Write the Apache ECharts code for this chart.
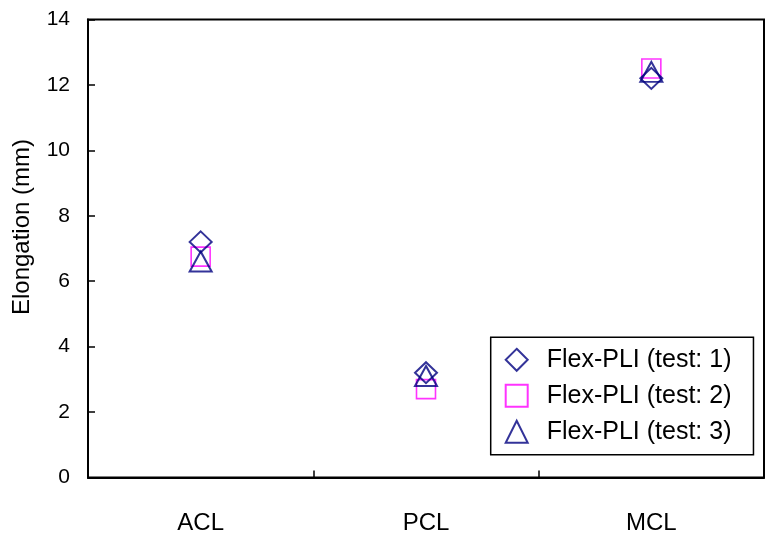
<!DOCTYPE html>
<html>
<head>
<meta charset="utf-8">
<script src="https://cdn.jsdelivr.net/npm/echarts@6/dist/echarts.min.js"></script>
<style>
  html, body { margin: 0; padding: 0; background: #fff; }
  #chart { width: 772px; height: 541px; }
</style>
</head>
<body>
<div id="chart"></div>
<script>
// Ligament elongation per test run
const categories = ['ACL', 'PCL', 'MCL'];
const test1 = [7.2, 3.2, 12.2];
const test2 = [6.75, 2.7, 12.5];
const test3 = [6.6, 3.1, 12.4];
const seriesNames = ['Flex-PLI (test: 1)', 'Flex-PLI (test: 2)', 'Flex-PLI (test: 3)'];
const yTicks = { min: 0, max: 14, interval: 2 };
const yTitle = 'Elongation (mm)';

const NAVY = '#000080';
const MAGENTA = '#FF00FF';
const FONT = '"Liberation Sans", Arial, sans-serif';

function hollow(color, width) {
  return { color: 'rgba(0,0,0,0)', borderColor: color, borderWidth: width };
}

const chart = echarts.init(document.getElementById('chart'));
chart.setOption({
  animation: false,
  backgroundColor: '#fff',
  textStyle: { fontFamily: FONT, color: '#000' },
  grid: {
    left: 88, right: 8, top: 19.5, bottom: 63.6,
    show: true, borderColor: '#000', borderWidth: 2, backgroundColor: 'transparent'
  },
  xAxis: {
    type: 'category',
    data: categories,
    boundaryGap: true,
    axisLine: { lineStyle: { color: '#000', width: 2 } },
    axisTick: { show: true, inside: true, length: 7, lineStyle: { color: '#000', width: 1.5 } },
    axisLabel: { color: '#000', fontSize: 24, margin: 34, fontFamily: FONT },
    splitLine: { show: false }
  },
  yAxis: {
    type: 'value',
    min: yTicks.min, max: yTicks.max, interval: yTicks.interval,
    axisLine: { show: true, lineStyle: { color: '#000', width: 2 } },
    axisTick: { show: true, inside: true, length: 7, lineStyle: { color: '#000', width: 1.5 } },
    axisLabel: { color: '#000', fontSize: 21, margin: 18, fontFamily: FONT },
    splitLine: { show: false }
  },
  legend: {
    orient: 'vertical',
    left: 490.7, top: 337.3,
    padding: [10, 22, 10.5, 14],
    itemWidth: 22, itemHeight: 22, itemGap: 11,
    backgroundColor: '#fff',
    borderColor: '#000', borderWidth: 1.5,
    textStyle: { color: '#000', fontSize: 25, fontFamily: FONT, padding: [0, 0, 0, 14] },
    data: seriesNames
  },
  graphic: [{
    type: 'text',
    x: 22, y: 227,
    rotation: Math.PI / 2,
    style: {
      text: yTitle, fill: '#000', font: '24px ' + FONT,
      align: 'center', verticalAlign: 'middle'
    }
  }],
  series: [
    {
      name: seriesNames[0], type: 'scatter', data: test1,
      symbol: 'diamond', symbolSize: [22, 21],
      itemStyle: hollow(NAVY, 2), z: 3
    },
    {
      name: seriesNames[1], type: 'scatter', data: test2,
      symbol: 'rect', symbolSize: 19,
      itemStyle: hollow(MAGENTA, 1.6), z: 2
    },
    {
      name: seriesNames[2], type: 'scatter', data: test3,
      symbol: 'triangle', symbolSize: [22, 20],
      itemStyle: hollow(NAVY, 2), z: 4
    }
  ]
});
</script>
</body>
</html>
